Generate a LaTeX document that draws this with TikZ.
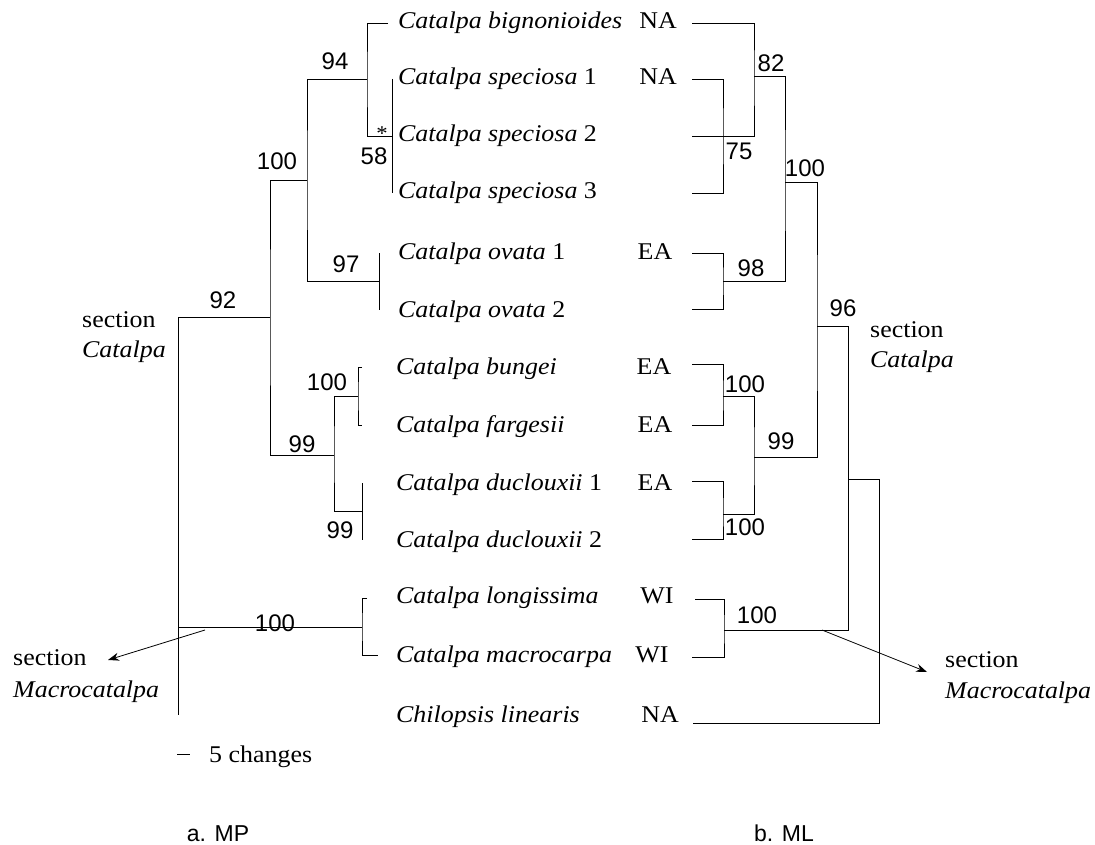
\documentclass[tikz,border=0pt]{standalone}
\usepackage{fontspec}
\setmainfont{Liberation Serif}[FakeStretch=1.08]
\newfontfamily\numfont{Liberation Sans}
\usetikzlibrary{arrows.meta, calc}
\tikzset{
    >={Stealth[length=11pt, width=8pt]},
    branch/.style={draw, line width=0.8pt},
    taxon/.style={anchor=base west, inner sep=0pt, font=\fontsize{24}{28}\selectfont},
    region/.style={anchor=base, inner sep=0pt, font=\fontsize{24}{28}\selectfont},
    support/.style={inner sep=0pt, font=\numfont\fontsize{24}{28}\selectfont},
    sect/.style={anchor=base west, inner sep=0pt, font=\fontsize{24}{28}\selectfont},
    panel/.style={anchor=base, inner sep=0pt, font=\numfont\fontsize{23}{28}\selectfont},
}

\begin{document}
\begin{tikzpicture}[x=1pt, y=-1pt]
    \useasboundingbox (0,0) rectangle (1095,845);

    % taxa
    \node[taxon] (big)  at (398,29)  {\textit{Catalpa bignonioides}};
    \node[taxon] (sp1)  at (398,85)  {\textit{Catalpa speciosa} 1};
    \node[taxon] (sp2)  at (398,142) {\textit{Catalpa speciosa} 2};
    \node[taxon] (sp3)  at (398,199) {\textit{Catalpa speciosa} 3};
    \node[taxon] (ov1)  at (398,259) {\textit{Catalpa ovata} 1};
    \node[taxon] (ov2)  at (398,317) {\textit{Catalpa ovata} 2};
    \node[taxon] (bun)  at (396,374) {\textit{Catalpa bungei}};
    \node[taxon] (far)  at (396,432) {\textit{Catalpa fargesii}};
    \node[taxon] (du1)  at (396,490) {\textit{Catalpa duclouxii} 1};
    \node[taxon] (du2)  at (396,547) {\textit{Catalpa duclouxii} 2};
    \node[taxon] (lon)  at (396,603) {\textit{Catalpa longissima}};
    \node[taxon] (mac)  at (396,662) {\textit{Catalpa macrocarpa}};
    \node[taxon] (chi)  at (396,722) {\textit{Chilopsis linearis}};

    \node[region] (rBig) at (658,29)  {NA};
    \node[region] (rSp1) at (658,85)  {NA};
    \node[region] (rOv1) at (655,259) {EA};
    \node[region] (rBun) at (654,374) {EA};
    \node[region] (rFar) at (655,432) {EA};
    \node[region] (rDu1) at (655,490) {EA};
    \node[region] (rLon) at (657,603) {WI};
    \node[region] (rMac) at (652,662) {WI};
    \node[region] (rChi) at (660,722) {NA};

    % a. MP tree
    \coordinate (mpBig) at (388,23);
    \coordinate (mpSp1) at (392,79);
    \coordinate (mpSp3) at (392,193);
    \coordinate (mpOv1) at (379,253);
    \coordinate (mpOv2) at (379,310);
    \coordinate (mpBun) at (362,367);
    \coordinate (mpFar) at (362,425);
    \coordinate (mpDu1) at (362,483);
    \coordinate (mpDu2) at (362,540);
    \coordinate (mpLon) at (367,598);
    \coordinate (mpMac) at (378,655);
    \coordinate (mpBase) at (178,715);
    \coordinate (n94)   at (367,79);
    \coordinate (n58)   at (392,136);
    \coordinate (n97)   at (379,281);
    \coordinate (n100a) at (307,180);
    \coordinate (n92)   at (270,317);
    \coordinate (n99a)  at (334,455);
    \coordinate (n100b) at (358,396);
    \coordinate (n99b)  at (362,511);
    \coordinate (n100c) at (362,627);

    \draw[branch] (mpBig) -| (n94) |- (n58);
    \draw[branch] (mpSp1) -- (mpSp3);
    \draw[branch] (mpOv1) -- (mpOv2);
    \draw[branch] (n94) -| (n100a) |- (n97);
    \draw[branch] (n100a) -| (n92) |- (n99a);
    \draw[branch] (mpBun) -| (n100b) |- (mpFar);
    \draw[branch] (n100b) -| (n99a) |- (n99b);
    \draw[branch] (mpDu1) -- (mpDu2);
    \draw[branch] (mpLon) -| (n100c) |- (mpMac);
    \draw[branch] (n92) -| (mpBase);
    \draw[branch] (n100c) -- (n100c -| mpBase);

    \node[support] (s94)   at (335,61)  {94};
    \node[support] (s100a) at (277,161) {100};
    \node[support] (s58)   at (374,156) {58};
    \node[anchor=base, inner sep=0pt, font=\fontsize{21}{24}\selectfont] (star) at (382,141) {*};
    \node[support] (s97)   at (346,264) {97};
    \node[support] (s92)   at (223,300) {92};
    \node[support] (s100b) at (327,382) {100};
    \node[support] (s99a)  at (302,444) {99};
    \node[support] (s99b)  at (340,530) {99};
    \node[support] (s100c) at (275,623) {100};

    \node[sect] (secCatL)  at (82,327)  {section};
    \node[sect] (secCatL2) at (82,357)  {\textit{Catalpa}};
    \node[sect] (secMacL)  at (13,665)  {section};
    \node[sect] (secMacL2) at (13,697)  {\textit{Macrocatalpa}};
    \coordinate (mpArr) at (205,630);
    \coordinate (mpArrEnd) at (108,660);
    \draw[->, line width=0.8pt] (mpArr) -- (mpArrEnd);

    % scale bar
    \coordinate (sb1) at (177,754);
    \coordinate (sb2) at (190,754);
    \draw[line width=0.8pt] (sb1) -- (sb2);
    \node[sect] (scale) at (209,762) {5 changes};

    % b. ML tree
    \coordinate (mlBig) at (692,23);
    \coordinate (mlSp1) at (692,79);
    \coordinate (mlSp2) at (692,136);
    \coordinate (mlSp3) at (692,193);
    \coordinate (mlOv1) at (692,253);
    \coordinate (mlOv2) at (692,309);
    \coordinate (mlBun) at (692,364);
    \coordinate (mlFar) at (692,425);
    \coordinate (mlDu1) at (692,481);
    \coordinate (mlDu2) at (692,539);
    \coordinate (mlLon) at (695,599);
    \coordinate (mlMac) at (692,657);
    \coordinate (mlChi) at (693,723);
    \coordinate (m82)   at (754,76);
    \coordinate (m75)   at (723,136);
    \coordinate (m100a) at (785,182);
    \coordinate (m98)   at (723,281);
    \coordinate (m96)   at (817,326);
    \coordinate (m99)   at (754,457);
    \coordinate (m100b) at (723,396);
    \coordinate (m100c) at (723,514);
    \coordinate (mIn)   at (848,479);
    \coordinate (m100d) at (724,630);
    \coordinate (mBase) at (879,723);

    \draw[branch] (mlBig) -| (m82) |- (mlSp2);
    \draw[branch] (mlSp1) -| (m75) |- (mlSp3);
    \draw[branch] (m82) -| (m100a) |- (m98);
    \draw[branch] (mlOv1) -| (m98) |- (mlOv2);
    \draw[branch] (m100a) -| (m96) |- (m99);
    \draw[branch] (m100b) -| (m99) |- (m100c);
    \draw[branch] (mlBun) -| (m100b) |- (mlFar);
    \draw[branch] (mlDu1) -| (m100c) |- (mlDu2);
    \draw[branch] (m96) -| (mIn) |- (m100d);
    \draw[branch] (mlLon) -| (m100d) |- (mlMac);
    \draw[branch] (mIn) -| (mBase) -- (mlChi);

    \node[support] (t82)   at (771,63)  {82};
    \node[support] (t75)   at (739,151) {75};
    \node[support] (t100a) at (805,168) {100};
    \node[support] (t98)   at (751,268) {98};
    \node[support] (t96)   at (843,308) {96};
    \node[support] (t100b) at (745,384) {100};
    \node[support] (t99)   at (781,441) {99};
    \node[support] (t100c) at (745,527) {100};
    \node[support] (t100d) at (757,615) {100};

    \node[sect] (secCatR)  at (870,337) {section};
    \node[sect] (secCatR2) at (870,367) {\textit{Catalpa}};
    \node[sect] (secMacR)  at (945,667) {section};
    \node[sect] (secMacR2) at (945,698) {\textit{Macrocatalpa}};
    \coordinate (mlArr) at (822,630);
    \coordinate (mlArrEnd) at (927,672);
    \draw[->, line width=0.8pt] (mlArr) -- (mlArrEnd);

    % panel labels
    \node[panel] (pa) at (218,841) {a. MP};
    \node[panel] (pb) at (784,841) {b. ML};
\end{tikzpicture}
\end{document}
